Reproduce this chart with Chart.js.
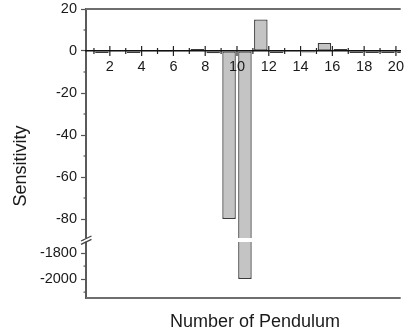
<!DOCTYPE html>
<html>
<head>
<meta charset="utf-8">
<script src="https://cdn.jsdelivr.net/npm/chart.js@4/dist/chart.umd.min.js"></script>
<style>
  html, body { margin: 0; padding: 0; background: #fff; overflow: hidden; }
</style>
</head>
<body>
<canvas id="chart" width="411" height="333"></canvas>
<script>
// Data
const pendulums = [1, 2, 3, 4, 5, 6, 7, 8, 9, 10, 11, 12, 13, 14, 15, 16, 17, 18, 19, 20];
const sensitivity = [-1.0, -0.4, -1.0, -0.4, -0.5, -0.4, 1.0, -1.1, -80, -2000, 15, -1.0, -0.4, -0.7, 3.8, 1.0, -0.9, -1.0, -1.0, -1.0];
const xTicks = [2, 4, 6, 8, 10, 12, 14, 16, 18, 20];
const xMinorTicks = [1, 3, 5, 7, 9, 11, 13, 15, 17, 19];
const upperTicks = [20, 0, -20, -40, -60, -80];
const upperMinorTicks = [10, -10, -30, -50, -70];
const lowerTicks = [-1800, -2000];
const lowerMinorTicks = [-1700, -1900, -2100];
const upperRange = [-90, 20];
const lowerRange = [-2145, -1700];

const FONT = "'Liberation Sans', Arial, sans-serif";
const BAR_FILL = '#c4c4c4';
const BAR_EDGE = '#3a3a3a';

// upper segment: bars clipped at the break
const upperData = pendulums.map((n, i) => ({ x: n + 0.5, y: [0, Math.max(sensitivity[i], upperRange[0])] }));
// lower segment: only bars that go past the break
const lowerData = pendulums
  .map((n, i) => ({ x: n + 0.5, v: sensitivity[i] }))
  .filter(d => d.v < lowerRange[1])
  .map(d => ({ x: d.x, y: [lowerRange[1], d.v] }));

function setTicks(list){ return scale => { scale.ticks = list.map(v => ({ value: v })); }; }

const decor = {
  id: 'decor',
  afterDatasetsDraw(chart) {
    const { ctx, chartArea: a, scales } = chart;
    const y = scales.y, y2 = scales.y2, x = scales.x;
    const line = (x1, y1, x2, y2_) => { ctx.beginPath(); ctx.moveTo(x1, y1); ctx.lineTo(x2, y2_); ctx.stroke(); };
    ctx.save();

    // white gap across bars at the break
    const yb = y.bottom;
    ctx.fillStyle = '#fff';
    ctx.fillRect(a.left + 1.5, yb - 2, a.right - a.left, 4);

    // frame top and bottom
    ctx.strokeStyle = '#6e6e6e';
    ctx.lineWidth = 2;
    line(a.left, a.top, a.right, a.top);
    line(a.left, a.bottom, a.right, a.bottom);

    // y minor ticks
    ctx.strokeStyle = '#555';
    ctx.lineWidth = 1.2;
    upperMinorTicks.forEach(v => { const p = y.getPixelForValue(v); line(a.left - 2.5, p, a.left, p); });
    lowerMinorTicks.forEach(v => { const p = y2.getPixelForValue(v); line(a.left - 2.5, p, a.left, p); });

    // break mark on the y axis
    ctx.fillStyle = '#fff';
    ctx.fillRect(a.left - 2, yb - 1.5, 4, 3.2);
    ctx.strokeStyle = '#444';
    ctx.lineWidth = 1.3;
    line(a.left - 5, yb + 1, a.left + 5.5, yb - 4);
    line(a.left - 5, yb + 4.3, a.left + 5.5, yb - 0.7);

    // x ticks crossing the zero line
    const y0 = y.getPixelForValue(0);
    ctx.strokeStyle = '#222';
    ctx.lineWidth = 1.2;
    xTicks.forEach(v => { const p = x.getPixelForValue(v); line(p, y0 - 5, p, y0 + 5); });
    xMinorTicks.forEach(v => { const p = x.getPixelForValue(v); line(p, y0 - 3, p, y0 + 3); });

    // axis titles
    ctx.fillStyle = '#1a1a1a';
    ctx.font = '18px ' + FONT;
    ctx.textAlign = 'center';
    ctx.textBaseline = 'alphabetic';
    ctx.fillText('Number of Pendulum', 255, 327);
    ctx.translate(26, 166);
    ctx.rotate(-Math.PI / 2);
    ctx.fillText('Sensitivity', 0, 0);
    ctx.restore();
  }
};

const yCommon = {
  type: 'linear',
  position: 'left',
  stack: 'left',
  afterFit: s => { s.width = 86; s.paddingTop = 0; s.paddingBottom = 0; },
  grid: { display: true, drawOnChartArea: false, tickLength: 5, color: '#555', tickWidth: 1.2 },
  border: { display: true, color: '#5a5a5a', width: 2 },
  ticks: { padding: 4, color: '#1a1a1a', font: { family: FONT, size: 14.5 }, callback: v => String(v) }
};

new Chart(document.getElementById('chart'), {
  type: 'bar',
  data: {
    datasets: [
      { data: upperData, yAxisID: 'y', backgroundColor: BAR_FILL, borderColor: BAR_EDGE, borderWidth: 1.3, borderSkipped: false, grouped: false, barPercentage: 0.85, categoryPercentage: 1 },
      { data: lowerData, yAxisID: 'y2', backgroundColor: BAR_FILL, borderColor: BAR_EDGE, borderWidth: 1.3, borderSkipped: false, grouped: false, barPercentage: 0.85, categoryPercentage: 1 }
    ]
  },
  options: {
    responsive: false,
    animation: false,
    layout: { padding: { top: 9, bottom: 35, left: 0, right: 0 } },
    plugins: { legend: { display: false }, tooltip: { enabled: false } },
    scales: {
      x: {
        type: 'linear',
        min: 0.5,
        max: 20.3,
        offset: false,
        position: { y: 0 },
        afterBuildTicks: setTicks(xTicks),
        grid: { display: false, drawTicks: false },
        border: { display: true, color: '#111', width: 1.5, z: 1 },
        ticks: { z: 1, padding: 7, maxRotation: 0, autoSkip: false, color: '#1a1a1a', font: { family: FONT, size: 14.5 } }
      },
      // lower segment listed first so it is stacked below the upper one
      y2: Object.assign({}, yCommon, {
        min: lowerRange[0], max: lowerRange[1], stackWeight: 58,
        afterBuildTicks: setTicks(lowerTicks)
      }),
      y: Object.assign({}, yCommon, {
        min: upperRange[0], max: upperRange[1], stackWeight: 231,
        afterBuildTicks: setTicks(upperTicks)
      })
    }
  },
  plugins: [decor]
});
</script>
</body>
</html>
